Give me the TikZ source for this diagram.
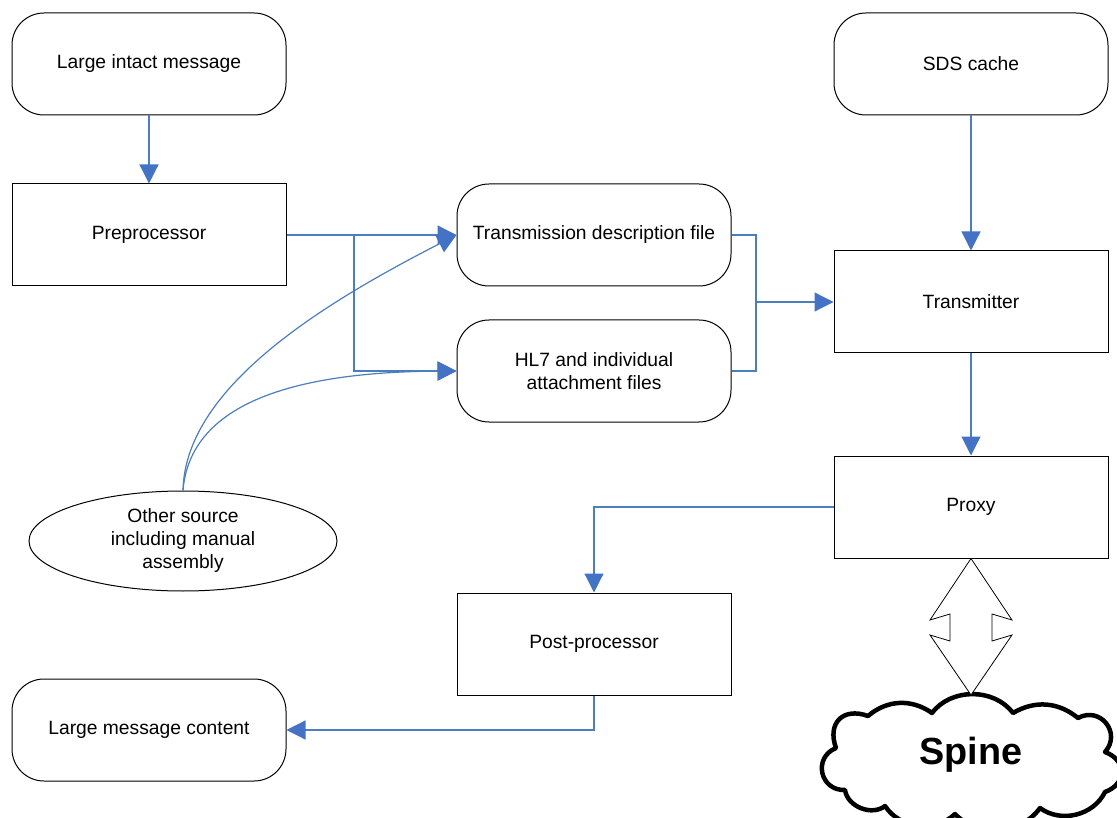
\documentclass[tikz,border=0pt]{standalone}
\usepackage{fontspec}
\setmainfont{Liberation Sans}
\usetikzlibrary{arrows.meta,shapes.geometric}
\definecolor{flow}{RGB}{74,126,190}
\definecolor{headfill}{RGB}{68,114,196}
\tikzset{
  base/.style={draw=black, line width=1pt, minimum width=274pt, minimum height=102pt,
    align=center, inner sep=2pt, font=\fontsize{19.25pt}{23pt}\selectfont},
  roundbox/.style={base, rounded corners=32pt},
  plainbox/.style={base},
  flowline/.style={draw=flow, line width=1.2pt,
    -{Triangle[length=19pt,width=19pt,fill=headfill,color=headfill]}},
  joinline/.style={draw=flow, line width=1.2pt},
  puff/.style={bend left=#1},
  bigpuff/.style={bend left=#1, looseness=1.5},
}
\begin{document}
\begin{tikzpicture}[x=1pt,y=-1pt]
\clip (0,0) rectangle (1117,818);
\useasboundingbox (0,0) rectangle (1117,818);

% boxes
\node[roundbox] (lim)  at (149,64)  {Large intact message};
\node[plainbox] (pre)  at (149,235) {Preprocessor};
\node[roundbox] (sds)  at (971,64)  {SDS cache};
\node[roundbox] (tdf)  at (594,235) {Transmission description file};
\node[roundbox] (hl7)  at (594,371) {HL7 and individual\\attachment files};
\node[plainbox] (tx)   at (971,302) {Transmitter};
\node[plainbox] (prx)  at (971,507) {Proxy};
\node[plainbox] (post) at (594,644) {Post-processor};
\node[roundbox] (lmc)  at (149,730) {Large message content};
\node[draw=black, line width=1pt, ellipse, minimum width=308pt, minimum height=100pt,
      align=center, inner sep=0pt, font=\fontsize{19.25pt}{23pt}\selectfont]
      (oth) at (183,541) {Other source\\including manual\\assembly};

% cloud outline, puff by puff between the notches
\coordinate (c1) at (868,716);
\coordinate (c2) at (932,713);
\coordinate (c3) at (1013,713);
\coordinate (c4) at (1078,718);
\coordinate (c5) at (1105,752);
\coordinate (c6) at (1105,792);
\coordinate (c7) at (1040,808);
\coordinate (c8) at (955,814);
\coordinate (c9) at (885,806);
\coordinate (c10) at (845,790);
\coordinate (c11) at (836,748);
\draw[black, line width=4.5pt, line join=round, fill=white]
  (c1) to[puff=38] (c2) to[puff=53] (c3) to[puff=35] (c4) to[bigpuff=80] (c5)
  to[bigpuff=70] (c6) to[puff=50] (c7) to[puff=50] (c8) to[puff=50] (c9)
  to[puff=60] (c10) to[bigpuff=80] (c11) to[bigpuff=65] (c1) -- cycle;
\node[font=\fontsize{37.8pt}{40pt}\selectfont\bfseries] (spine) at (971,755) {Spine};

% two-headed block arrow between proxy and cloud
\coordinate (cloudtop) at (971,695);
\draw[black, line width=0.8pt, fill=white]
  (prx.south) -- (930,620) -- (950,614) -- (950,641) -- (930,635) -- (cloudtop)
  -- (1012,635) -- (992,641) -- (992,614) -- (1012,620) -- cycle;

% connectors
\draw[flowline] (lim.south) -- (pre.north);
\coordinate (split) at (354,235);
\draw[flowline] (pre.east) -- (tdf.west);
\draw[flowline] (split) |- (hl7.west);
\draw[flowline] (oth.north) .. controls (185,385) and (330,300) .. (tdf.west);
\draw[flowline] (oth.north) .. controls (190,405) and (290,372) .. (hl7.west);

\coordinate (merge) at (756,302);
\draw[joinline] (tdf.east) -| (merge) |- (hl7.east);
\draw[flowline] (merge) -- (tx.west);

\draw[flowline] (sds.south) -- (tx.north);
\draw[flowline] (tx.south) -- (prx.north);
\draw[flowline] (prx.west) -| (post.north);
\draw[flowline] (post.south) |- (lmc.east);
\end{tikzpicture}
\end{document}
